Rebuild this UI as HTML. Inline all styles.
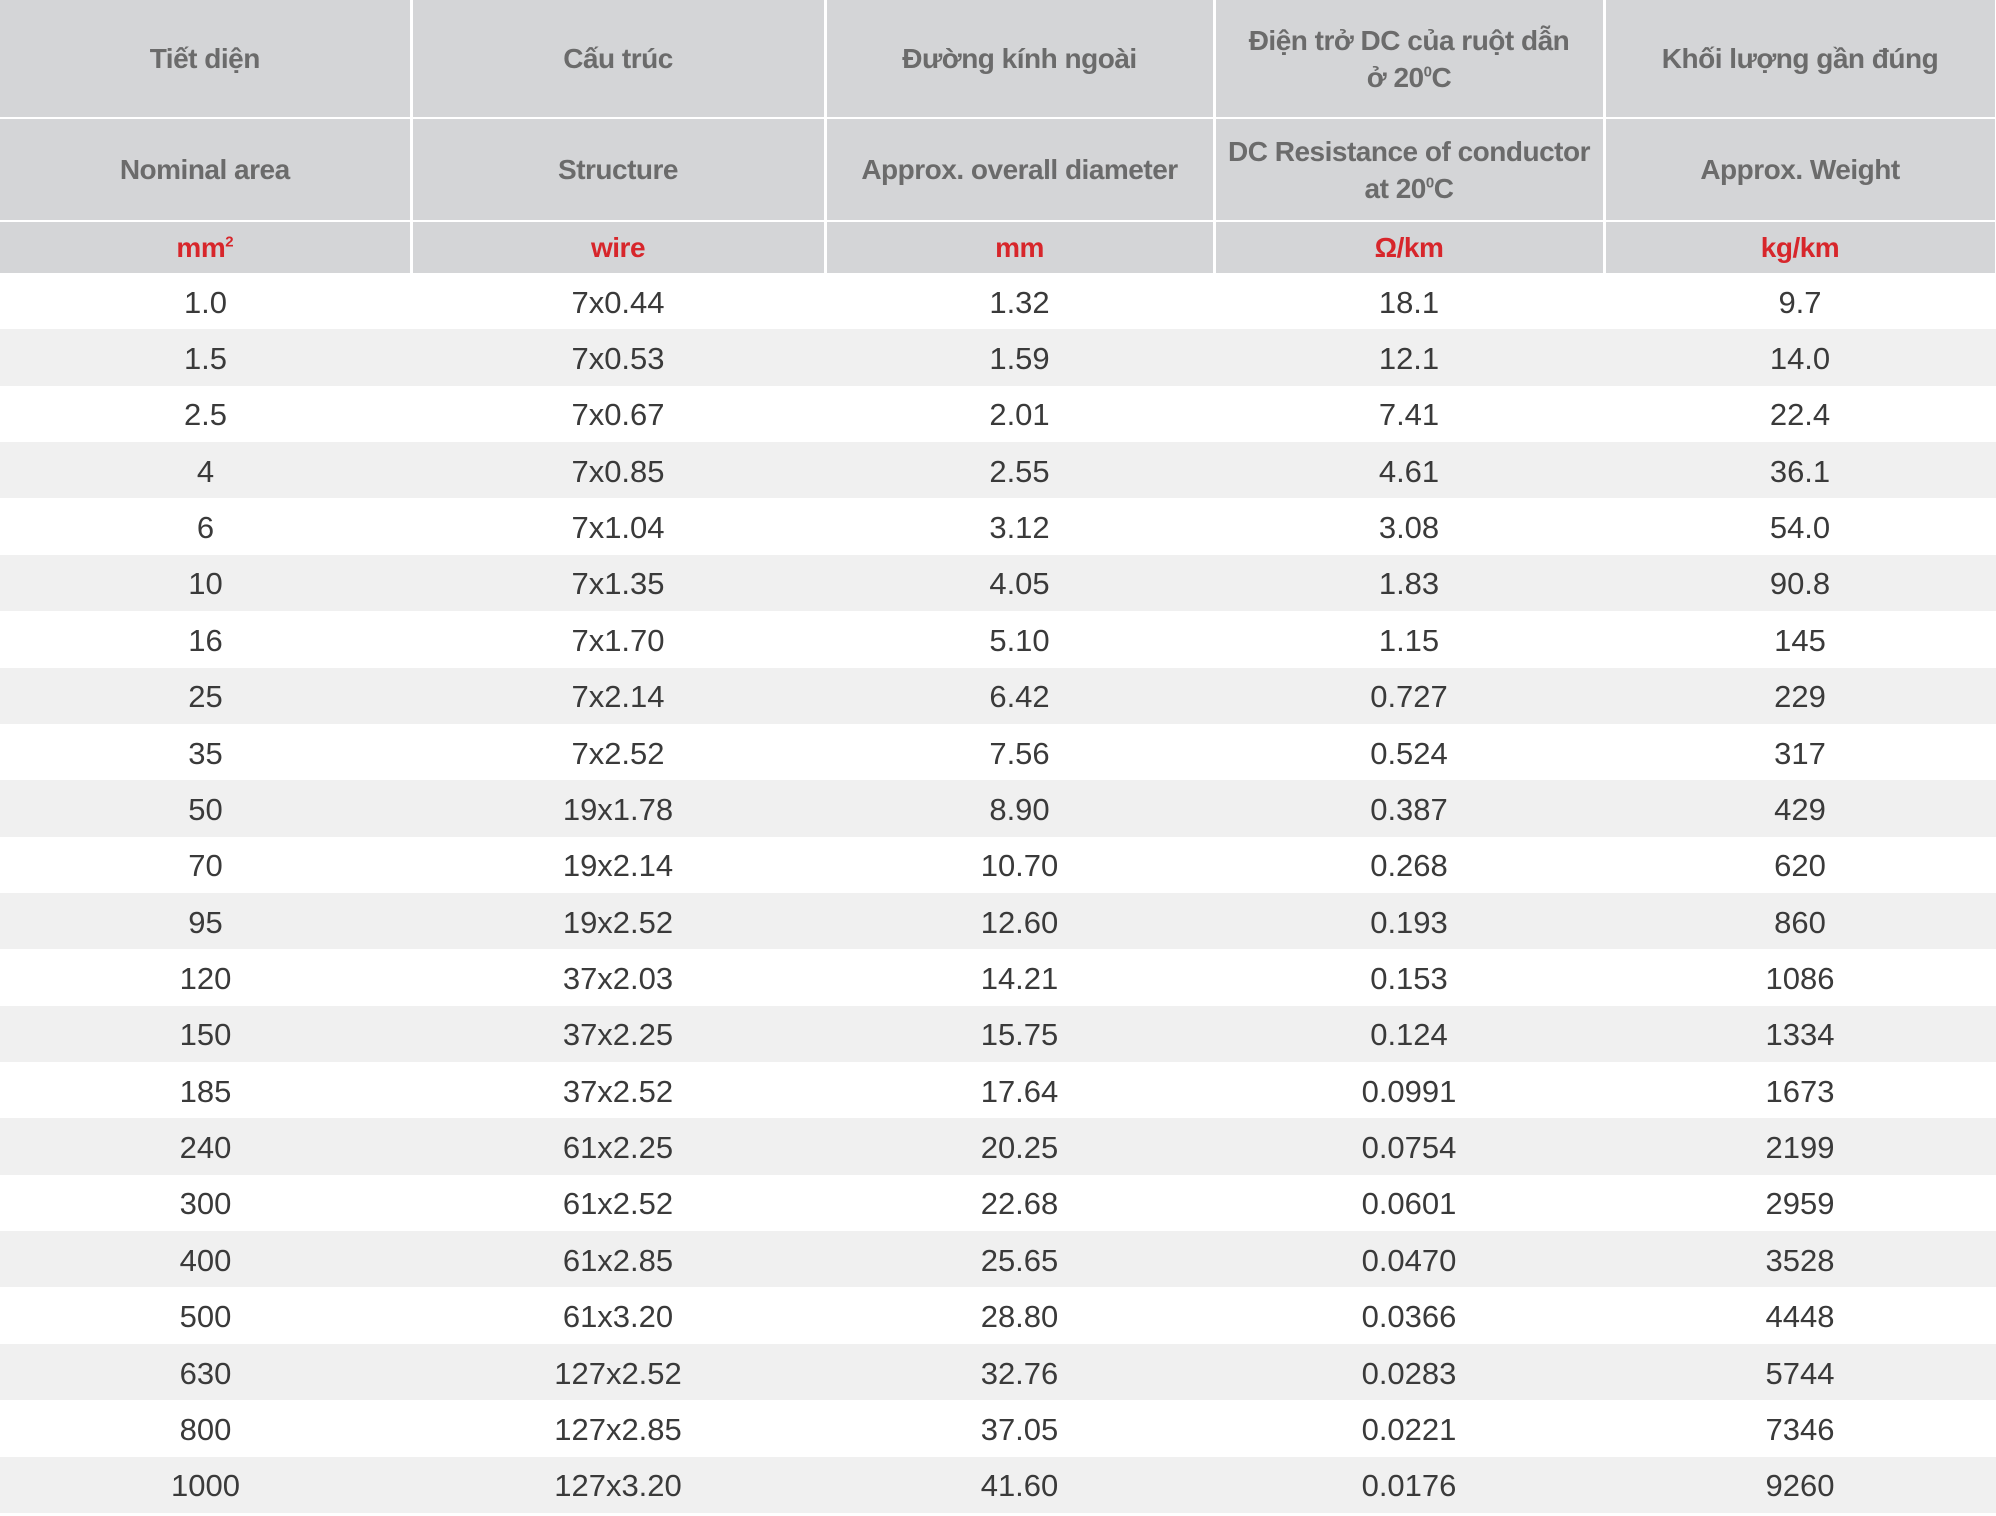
<!DOCTYPE html>
<html><head><meta charset="utf-8"><style>
*{margin:0;padding:0;box-sizing:border-box}
body{width:1996px;height:1516px;background:#fff;position:relative;overflow:hidden;font-family:"Liberation Sans Narrow","Liberation Sans",sans-serif}
.c{position:absolute;display:flex;align-items:center;justify-content:center;text-align:center}
.h{background:#d4d5d7;color:#6b6b6b;font-weight:bold;font-size:28px;line-height:37px;letter-spacing:-0.5px}
.u{color:#d7262b}
.r{position:absolute;left:0;width:1996px;height:56.4px}
.d{color:#3a3a3a;font-size:31px;padding-top:3px}
sup{font-size:15px;line-height:0;vertical-align:super}
</style></head><body>
<div id="t"></div>
<script>
var xs=[0,411,825,1214,1604,1996];
var h1=["Tiết diện","Cấu trúc","Đường kính ngoài","Điện trở DC của ruột dẫn<br>ở 20<sup>0</sup>C","Khối lượng gần đúng"];
var h2=["Nominal area","Structure","Approx. overall diameter","DC Resistance of conductor<br>at 20<sup>0</sup>C","Approx. Weight"];
var h3=["mm<sup>2</sup>","wire","mm","Ω/km","kg/km"];
var rows=[["1.0","7x0.44","1.32","18.1","9.7"],["1.5","7x0.53","1.59","12.1","14.0"],["2.5","7x0.67","2.01","7.41","22.4"],["4","7x0.85","2.55","4.61","36.1"],["6","7x1.04","3.12","3.08","54.0"],["10","7x1.35","4.05","1.83","90.8"],["16","7x1.70","5.10","1.15","145"],["25","7x2.14","6.42","0.727","229"],["35","7x2.52","7.56","0.524","317"],["50","19x1.78","8.90","0.387","429"],["70","19x2.14","10.70","0.268","620"],["95","19x2.52","12.60","0.193","860"],["120","37x2.03","14.21","0.153","1086"],["150","37x2.25","15.75","0.124","1334"],["185","37x2.52","17.64","0.0991","1673"],["240","61x2.25","20.25","0.0754","2199"],["300","61x2.52","22.68","0.0601","2959"],["400","61x2.85","25.65","0.0470","3528"],["500","61x3.20","28.80","0.0366","4448"],["630","127x2.52","32.76","0.0283","5744"],["800","127x2.85","37.05","0.0221","7346"],["1000","127x3.20","41.60","0.0176","9260"]];
var s="";
var hy=[[0,117],[119,101],[222,51]];
[h1,h2,h3].forEach(function(h,k){for(var i=0;i<5;i++){var l=xs[i]+(i?1.5:0),w=xs[i+1]-l-1.5;
s+='<div class="c h'+(k==2?' u':'')+'" style="left:'+l+'px;top:'+hy[k][0]+'px;width:'+w+'px;height:'+hy[k][1]+'px"><span>'+h[i]+'</span></div>';}});
rows.forEach(function(r,j){var y=273+j*56.36;
s+='<div class="r" style="top:'+y+'px;background:'+(j%2?'#f0f0f0':'#fff')+'"></div>';
for(var i=0;i<5;i++)s+='<div class="c d" style="left:'+xs[i]+'px;top:'+y+'px;width:'+(xs[i+1]-xs[i])+'px;height:56.4px"><span>'+r[i]+'</span></div>';});
document.getElementById("t").innerHTML=s;
</script>
</body></html>
